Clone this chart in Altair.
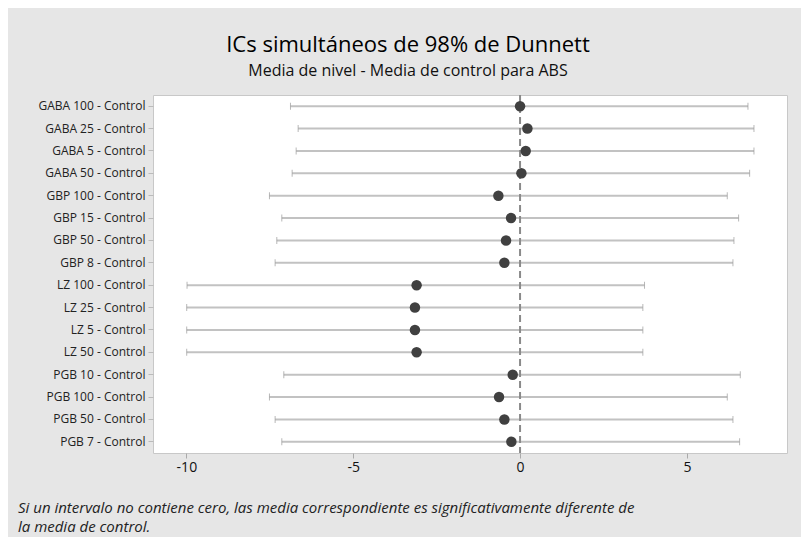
import altair as alt
import pandas as pd

labels = [
    "GABA 100 - Control", "GABA 25 - Control", "GABA 5 - Control", "GABA 50 - Control",
    "GBP 100 - Control", "GBP 15 - Control", "GBP 50 - Control", "GBP 8 - Control",
    "LZ 100 - Control", "LZ 25 - Control", "LZ 5 - Control", "LZ 50 - Control",
    "PGB 10 - Control", "PGB 100 - Control", "PGB 50 - Control", "PGB 7 - Control",
]
lower = [-6.88, -6.65, -6.71, -6.83, -7.51, -7.14, -7.29, -7.34,
         -9.98, -9.99, -9.99, -9.99, -7.08, -7.51, -7.34, -7.14]
center = [0.00, 0.22, 0.17, 0.04, -0.65, -0.27, -0.42, -0.47,
          -3.10, -3.15, -3.15, -3.10, -0.22, -0.63, -0.47, -0.26]
upper = [6.83, 7.01, 7.01, 6.88, 6.21, 6.55, 6.41, 6.38,
         3.73, 3.68, 3.68, 3.68, 6.60, 6.21, 6.38, 6.58]
x_ticks = [-10, -5, 0, 5]

title_text = "ICs simultáneos de 98% de Dunnett"
subtitle_text = "Media de nivel - Media de control para ABS"
footnote = ("Si un intervalo no contiene cero, las media correspondiente es significativamente diferente de\n"
            "la media de control.")

df = pd.DataFrame({"label": labels, "lower": lower, "center": center, "upper": upper})

FONT = "Open Sans"

xscale = alt.Scale(domain=[-11, 8], nice=False, zero=False)
ysort = labels

xenc = alt.X("lower:Q", scale=xscale,
             axis=alt.Axis(values=x_ticks, title=None, grid=False, domain=False,
                           tickColor="#aaaaaa", tickSize=5, labelFontSize=14,
                           labelPadding=2, labelColor="#111111", labelFont=FONT,
                           labelExpr="toString(datum.value)"))
yenc = alt.Y("label:N", sort=ysort,
             axis=alt.Axis(title=None, domain=False, tickColor="#bbbbbb", tickSize=5,
                           labelFontSize=12, labelColor="#222222", labelPadding=3,
                           labelFont=FONT))

base = alt.Chart(df)

rules = base.mark_rule(color="#c2c2c2", strokeWidth=2).encode(
    x=xenc, x2="upper:Q", y=yenc)

cap_lo = base.mark_tick(color="#9a9a9a", size=7, thickness=1, orient="vertical").encode(
    x=alt.X("lower:Q", scale=xscale), y=alt.Y("label:N", sort=ysort))
cap_hi = base.mark_tick(color="#9a9a9a", size=7, thickness=1, orient="vertical").encode(
    x=alt.X("upper:Q", scale=xscale), y=alt.Y("label:N", sort=ysort))

zero = alt.Chart(pd.DataFrame({"z": [0]})).mark_rule(
    color="#8a8a8a", strokeWidth=2, strokeDash=[7, 4]).encode(
    x=alt.X("z:Q", scale=xscale))

points = base.mark_circle(color="#404040", size=110, opacity=1).encode(
    x=alt.X("center:Q", scale=xscale), y=alt.Y("label:N", sort=ysort))

note = alt.Chart(pd.DataFrame({"t": [footnote]})).mark_text(
    align="left", baseline="alphabetic", fontStyle="italic", fontSize=15,
    color="#222222", font=FONT, lineBreak="\n", lineHeight=19).encode(
    text="t:N", x=alt.value(-135), y=alt.value(418))

chart = alt.layer(rules, cap_lo, cap_hi, zero, points, note).properties(
    width=634, height=358,
    title=alt.TitleParams(text=title_text, subtitle=subtitle_text, anchor="middle",
                          dx=-62, offset=14, font=FONT, fontSize=22, fontWeight=500,
                          color="#000000", subtitleFont=FONT, subtitleFontSize=16,
                          subtitleColor="#111111", subtitlePadding=6),
    padding={"left": 145, "top": 87, "right": 14, "bottom": 84},
    autosize=alt.AutoSizeParams(type="none"),
    background="#e6e6e6",
).configure_view(stroke="#c8c8c8", fill="white")

chart.save("out.html", embed_options={"renderer": "svg", "actions": False})
